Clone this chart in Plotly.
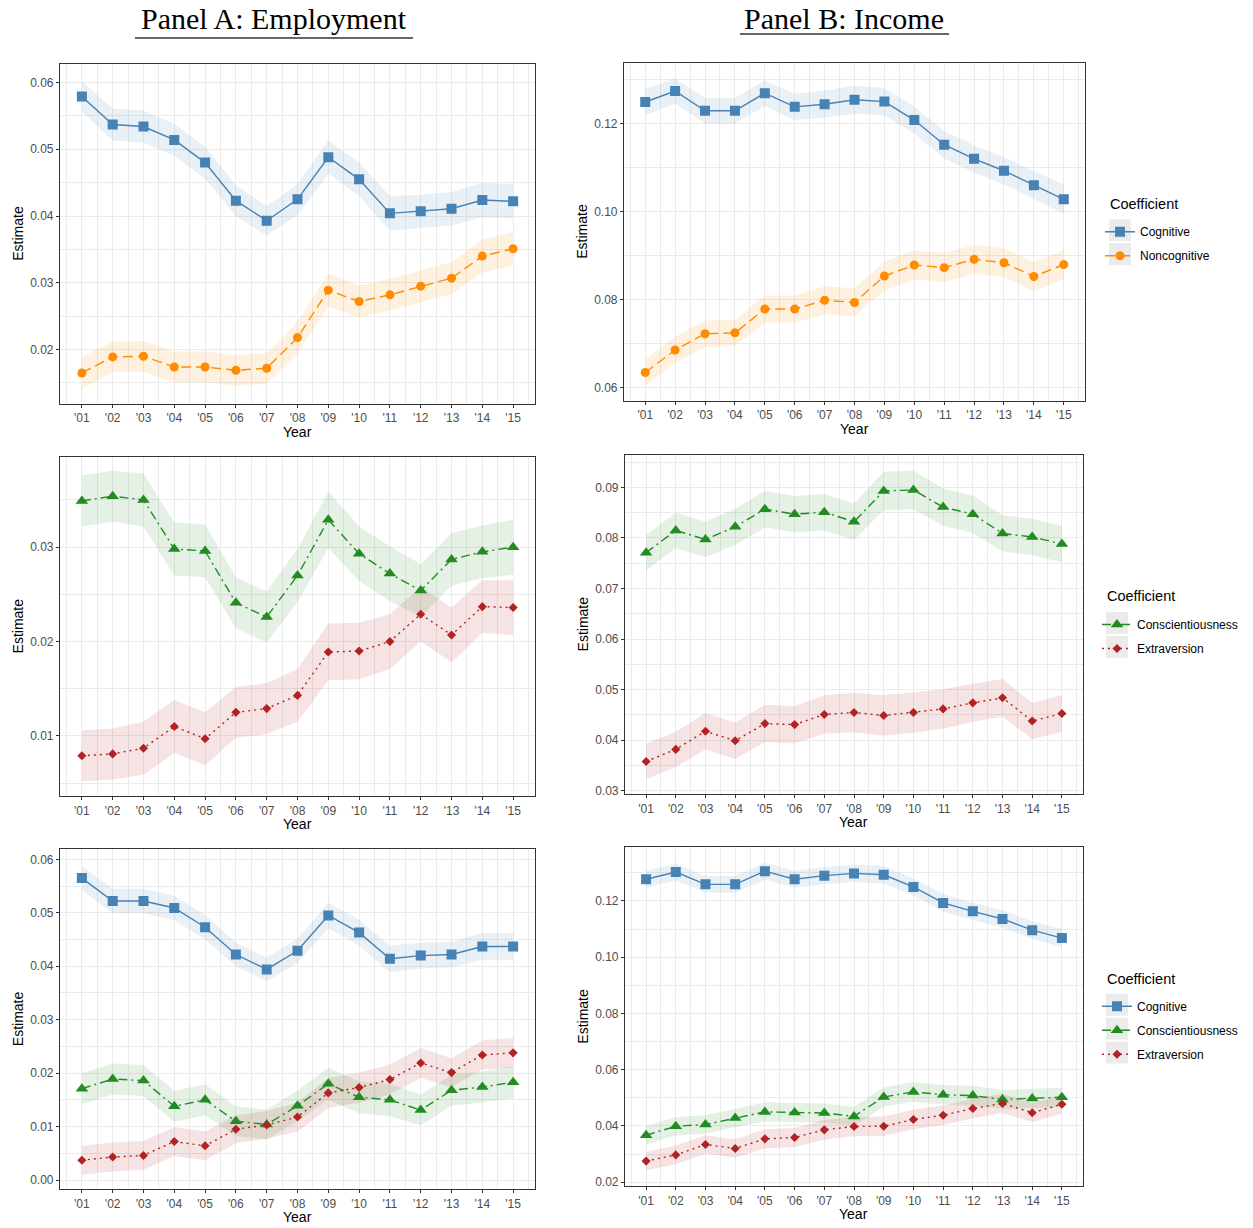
import numpy as np
import plotly.graph_objects as go

W, H = 1253, 1228

# ---------------- data ----------------
year_pos = list(range(1, 16))
year_labels = ["'01", "'02", "'03", "'04", "'05", "'06", "'07", "'08",
               "'09", "'10", "'11", "'12", "'13", "'14", "'15"]

# Panel A, row 1 (Employment)
emp1_cog = [0.0579, 0.0537, 0.0534, 0.0514, 0.0480, 0.0423, 0.0393, 0.0425,
            0.0488, 0.0455, 0.0404, 0.0407, 0.0411, 0.0424, 0.0422]
emp1_cog_ci = [0.0023, 0.0024, 0.0024, 0.0024, 0.0024, 0.0023, 0.0022, 0.0023,
               0.0025, 0.0025, 0.0026, 0.0025, 0.0025, 0.0026, 0.0026]
emp1_noncog = [0.0165, 0.0189, 0.0190, 0.0174, 0.0174, 0.0169, 0.0172, 0.0218,
               0.0289, 0.0272, 0.0282, 0.0295, 0.0307, 0.0340, 0.0351]
emp1_noncog_ci = [0.0024, 0.0023, 0.0023, 0.0023, 0.0023, 0.0023, 0.0023, 0.0024,
                  0.0025, 0.0024, 0.0024, 0.0024, 0.0024, 0.0025, 0.0025]

# Panel B, row 1 (Income)
inc1_cog = [0.1249, 0.1274, 0.1229, 0.1229, 0.1269, 0.1238, 0.1244, 0.1254,
            0.1250, 0.1208, 0.1152, 0.1120, 0.1093, 0.1060, 0.1028]
inc1_cog_ci = [0.0030, 0.0029, 0.0029, 0.0029, 0.0029, 0.0030, 0.0031, 0.0032,
               0.0031, 0.0031, 0.0031, 0.0031, 0.0031, 0.0032, 0.0033]
inc1_noncog = [0.0635, 0.0686, 0.0723, 0.0725, 0.0779, 0.0779, 0.0799, 0.0794,
               0.0854, 0.0879, 0.0873, 0.0892, 0.0884, 0.0853, 0.0880]
inc1_noncog_ci = [0.0030, 0.0030, 0.0030, 0.0030, 0.0031, 0.0031, 0.0032, 0.0032,
                  0.0033, 0.0033, 0.0033, 0.0033, 0.0033, 0.0033, 0.0033]

# Panel A, row 2
emp2_consc = [0.0349, 0.0354, 0.0350, 0.0298, 0.0296, 0.0241, 0.0226, 0.0270,
              0.0329, 0.0293, 0.0272, 0.0254, 0.0287, 0.0295, 0.0300]
emp2_consc_ci = [0.0027, 0.0027, 0.0028, 0.0028, 0.0028, 0.0027, 0.0027, 0.0028,
                 0.0030, 0.0029, 0.0029, 0.0028, 0.0028, 0.0028, 0.0029]
emp2_extra = [0.0079, 0.0081, 0.0087, 0.0110, 0.0097, 0.0125, 0.0129, 0.0143,
              0.0189, 0.0190, 0.0200, 0.0229, 0.0207, 0.0237, 0.0236]
emp2_extra_ci = [0.0027, 0.0027, 0.0028, 0.0028, 0.0028, 0.0027, 0.0027, 0.0028,
                 0.0030, 0.0030, 0.0029, 0.0029, 0.0029, 0.0028, 0.0029]

# Panel B, row 2
inc2_consc = [0.0771, 0.0815, 0.0797, 0.0822, 0.0857, 0.0847, 0.0851, 0.0832,
              0.0893, 0.0895, 0.0861, 0.0847, 0.0809, 0.0802, 0.0788]
inc2_consc_ci = [0.0035, 0.0035, 0.0035, 0.0036, 0.0036, 0.0036, 0.0036, 0.0036,
                 0.0038, 0.0038, 0.0037, 0.0037, 0.0036, 0.0036, 0.0036]
inc2_extra = [0.0358, 0.0382, 0.0418, 0.0399, 0.0433, 0.0431, 0.0451, 0.0455,
              0.0449, 0.0455, 0.0462, 0.0474, 0.0484, 0.0438, 0.0453]
inc2_extra_ci = [0.0035, 0.0035, 0.0036, 0.0036, 0.0037, 0.0037, 0.0038, 0.0039,
                 0.0040, 0.0040, 0.0039, 0.0038, 0.0037, 0.0036, 0.0036]

# Panel A, row 3
emp3_cog = [0.0565, 0.0522, 0.0522, 0.0509, 0.0473, 0.0422, 0.0394, 0.0429,
            0.0495, 0.0463, 0.0414, 0.0420, 0.0422, 0.0437, 0.0437]
emp3_cog_ci = [0.0023, 0.0023, 0.0023, 0.0023, 0.0023, 0.0022, 0.0022, 0.0023,
               0.0024, 0.0024, 0.0025, 0.0024, 0.0024, 0.0025, 0.0025]
emp3_consc = [0.0171, 0.0189, 0.0186, 0.0138, 0.0150, 0.0110, 0.0104, 0.0139,
              0.0180, 0.0155, 0.0150, 0.0131, 0.0168, 0.0174, 0.0183]
emp3_consc_ci = [0.0029, 0.0029, 0.0029, 0.0029, 0.0029, 0.0028, 0.0028, 0.0029,
                 0.0030, 0.0030, 0.0030, 0.0029, 0.0029, 0.0029, 0.0030]
emp3_extra = [0.0037, 0.0043, 0.0046, 0.0072, 0.0064, 0.0095, 0.0103, 0.0118,
              0.0163, 0.0173, 0.0188, 0.0219, 0.0201, 0.0234, 0.0238]
emp3_extra_ci = [0.0027, 0.0027, 0.0027, 0.0027, 0.0027, 0.0026, 0.0026, 0.0027,
                 0.0028, 0.0028, 0.0028, 0.0028, 0.0027, 0.0027, 0.0028]

# Panel B, row 3
inc3_cog = [0.1277, 0.1303, 0.1259, 0.1259, 0.1306, 0.1277, 0.1290, 0.1298,
            0.1293, 0.1250, 0.1193, 0.1163, 0.1136, 0.1096, 0.1068]
inc3_cog_ci = [0.0030, 0.0030, 0.0030, 0.0030, 0.0030, 0.0030, 0.0031, 0.0031,
               0.0031, 0.0031, 0.0031, 0.0031, 0.0031, 0.0031, 0.0032]
inc3_consc = [0.0367, 0.0399, 0.0405, 0.0428, 0.0450, 0.0448, 0.0446, 0.0434,
              0.0503, 0.0521, 0.0511, 0.0508, 0.0494, 0.0498, 0.0502]
inc3_consc_ci = [0.0033, 0.0033, 0.0033, 0.0033, 0.0034, 0.0034, 0.0034, 0.0034,
                 0.0035, 0.0035, 0.0035, 0.0035, 0.0034, 0.0034, 0.0034]
inc3_extra = [0.0275, 0.0297, 0.0334, 0.0320, 0.0354, 0.0359, 0.0386, 0.0398,
              0.0399, 0.0423, 0.0438, 0.0462, 0.0480, 0.0447, 0.0477]
inc3_extra_ci = [0.0033, 0.0033, 0.0033, 0.0033, 0.0034, 0.0034, 0.0035, 0.0035,
                 0.0035, 0.0035, 0.0035, 0.0035, 0.0034, 0.0033, 0.0033]

# ---------------- styling ----------------
STYLE = {
    "Cognitive": dict(color="#4682B4", rgb=(70, 130, 180), symbol="square", size=10, dash="solid"),
    "Noncognitive": dict(color="#FF8C00", rgb=(255, 140, 0), symbol="circle", size=9, dash="10px,5px"),
    "Conscientiousness": dict(color="#228B22", rgb=(34, 139, 34), symbol="triangle-up", size=11,
                              dash="9px,4px,2px,4px"),
    "Extraversion": dict(color="#B22222", rgb=(178, 34, 34), symbol="diamond", size=7, dash="2px,4px"),
}

SANS = "Liberation Sans, Arial, Helvetica, sans-serif"
SERIF = "Liberation Serif, Times New Roman, serif"
GRID = "#EBEBEB"
FRAME = "#333333"

# panel boxes in pixels: left, top, right, bottom
panels = [
    dict(box=(60, 64, 535, 405), yrange=(0.0119, 0.0628), ticks=(0.02, 0.06, 0.01), legend=None,
         series=[("Cognitive", emp1_cog, emp1_cog_ci), ("Noncognitive", emp1_noncog, emp1_noncog_ci)]),
    dict(box=(624, 63, 1085, 402), yrange=(0.0571, 0.1338), ticks=(0.06, 0.12, 0.02),
         legend=("legend", 1108, 205, 1109, [220, 244]),
         series=[("Cognitive", inc1_cog, inc1_cog_ci), ("Noncognitive", inc1_noncog, inc1_noncog_ci)]),
    dict(box=(60, 458, 535, 799), yrange=(0.0036, 0.0396), ticks=(0.01, 0.03, 0.01), legend=None,
         series=[("Conscientiousness", emp2_consc, emp2_consc_ci), ("Extraversion", emp2_extra, emp2_extra_ci)]),
    dict(box=(625, 456, 1083, 797), yrange=(0.0293, 0.0965), ticks=(0.03, 0.09, 0.01),
         legend=("legend2", 1105, 598, 1106, [614, 638]),
         series=[("Conscientiousness", inc2_consc, inc2_consc_ci), ("Extraversion", inc2_extra, inc2_extra_ci)]),
    dict(box=(60, 852, 535, 1193), yrange=(-0.0017, 0.0619), ticks=(0.0, 0.06, 0.01), legend=None,
         series=[("Cognitive", emp3_cog, emp3_cog_ci), ("Conscientiousness", emp3_consc, emp3_consc_ci),
                 ("Extraversion", emp3_extra, emp3_extra_ci)]),
    dict(box=(625, 850, 1083, 1190), yrange=(0.0186, 0.1391), ticks=(0.02, 0.12, 0.02),
         legend=("legend3", 1105, 982, 1106, [997, 1021, 1045]),
         series=[("Cognitive", inc3_cog, inc3_cog_ci), ("Conscientiousness", inc3_consc, inc3_consc_ci),
                 ("Extraversion", inc3_extra, inc3_extra_ci)]),
]


def px_x(v):
    return v / W


def px_y(v):
    return 1 - v / H


fig = go.Figure()
layout = dict(
    width=W, height=H, autosize=False,
    margin=dict(l=0, r=0, t=0, b=0),
    paper_bgcolor="white", plot_bgcolor="white",
    font=dict(family=SANS, size=12, color="black"),
    showlegend=True,
)
annotations = []
shapes = []

for i, p in enumerate(panels, start=1):
    sfx = "" if i == 1 else str(i)
    xref, yref = "x" + sfx, "y" + sfx
    l, t, r, b = p["box"]
    lo, hi, step = p["ticks"]
    major = list(np.round(np.arange(lo, hi + step / 2, step), 4))
    minor = list(np.round(np.arange(lo - step / 2, hi + step, step), 4))
    layout["xaxis" + sfx] = dict(
        domain=[px_x(l), px_x(r)], anchor=yref, range=[0.29, 15.71],
        tickmode="array", tickvals=year_pos, ticktext=year_labels,
        showgrid=True, gridcolor=GRID, gridwidth=1.1, zeroline=False,
        showline=True, mirror=True, linecolor=FRAME, linewidth=1.1,
        ticks="outside", ticklen=3, tickwidth=1, tickcolor=FRAME,
        tickfont=dict(size=12, color="#4D4D4D", family=SANS),
        minor=dict(tickmode="array", tickvals=list(np.arange(0.5, 16, 1.0)), showgrid=True,
                   gridcolor=GRID, gridwidth=0.6, ticks=""),
    )
    layout["yaxis" + sfx] = dict(
        domain=[px_y(b), px_y(t)], anchor=xref, range=list(p["yrange"]),
        tickmode="array", tickvals=major, tickformat=".2f",
        showgrid=True, gridcolor=GRID, gridwidth=1.1, zeroline=False,
        showline=True, mirror=True, linecolor=FRAME, linewidth=1.1,
        ticks="outside", ticklen=3, tickwidth=1, tickcolor=FRAME,
        tickfont=dict(size=12, color="#4D4D4D", family=SANS),
        minor=dict(tickmode="array", tickvals=minor, showgrid=True,
                   gridcolor=GRID, gridwidth=0.6, ticks=""),
    )
    # ribbons first
    for name, vals, ci in p["series"]:
        st = STYLE[name]
        upper = [v + c for v, c in zip(vals, ci)]
        lower = [v - c for v, c in zip(vals, ci)]
        fig.add_trace(go.Scatter(
            x=year_pos + year_pos[::-1], y=upper + lower[::-1],
            xaxis=xref, yaxis=yref, mode="lines", fill="toself",
            fillcolor="rgba(%d,%d,%d,0.12)" % st["rgb"], line=dict(width=0),
            hoverinfo="skip", showlegend=False))
    leg = p["legend"]
    for name, vals, ci in p["series"]:
        st = STYLE[name]
        kw = dict(showlegend=False)
        if leg:
            kw = dict(showlegend=True, legend=leg[0], legendgroup=leg[0] + name)
        fig.add_trace(go.Scatter(
            x=year_pos, y=vals, xaxis=xref, yaxis=yref, name=name,
            mode="lines+markers",
            line=dict(color=st["color"], width=1.4, dash=st["dash"]),
            marker=dict(symbol=st["symbol"], size=st["size"], color=st["color"], line=dict(width=0)),
            **kw))
    if leg:
        key, tx, ty, bx, box_tops = leg
        annotations.append(dict(text="Coefficient", x=px_x(tx), y=px_y(ty), xref="paper", yref="paper",
                                showarrow=False, xanchor="left", yanchor="middle",
                                font=dict(size=14.5, color="black", family=SANS)))
        for bt in box_tops:
            shapes.append(dict(type="rect", xref="paper", yref="paper", x0=px_x(bx), x1=px_x(bx + 22),
                               y0=px_y(bt + 22), y1=px_y(bt), fillcolor="#EBEBEB",
                               line=dict(width=0), layer="above"))
        layout[key] = dict(x=px_x(bx - 9), y=px_y(box_tops[0] - 2), xanchor="left", yanchor="top",
                           bgcolor="rgba(0,0,0,0)", borderwidth=0, tracegroupgap=5,
                           font=dict(size=12, family=SANS, color="black"))
    # axis titles
    annotations.append(dict(text="Year", x=px_x((l + r) / 2), y=px_y(b + 28), xref="paper", yref="paper",
                            showarrow=False, xanchor="center", yanchor="middle",
                            font=dict(size=14, color="black", family=SANS)))
    annotations.append(dict(text="Estimate", x=px_x(l - 42), y=px_y((t + b) / 2), xref="paper", yref="paper",
                            showarrow=False, xanchor="center", yanchor="middle", textangle=-90,
                            font=dict(size=14, color="black", family=SANS)))

# Panel titles
annotations.append(dict(text="Panel A: Employment", x=px_x(274), y=px_y(19), xref="paper", yref="paper",
                        showarrow=False, xanchor="center", yanchor="middle",
                        font=dict(size=30, color="black", family=SERIF)))
annotations.append(dict(text="Panel B: Income", x=px_x(844), y=px_y(19), xref="paper", yref="paper",
                        showarrow=False, xanchor="center", yanchor="middle",
                        font=dict(size=30, color="black", family=SERIF)))
shapes.append(dict(type="line", xref="paper", yref="paper", x0=px_x(135), x1=px_x(413),
                   y0=px_y(38), y1=px_y(38), line=dict(color="#333333", width=1.5)))
shapes.append(dict(type="line", xref="paper", yref="paper", x0=px_x(740), x1=px_x(949),
                   y0=px_y(34), y1=px_y(34), line=dict(color="#333333", width=1.5)))

layout["annotations"] = annotations
layout["shapes"] = shapes
fig.update_layout(**layout)

fig.write_html("out.html", config={"displayModeBar": False},
               post_script="document.body.style.margin='0';document.body.style.overflow='hidden';")
